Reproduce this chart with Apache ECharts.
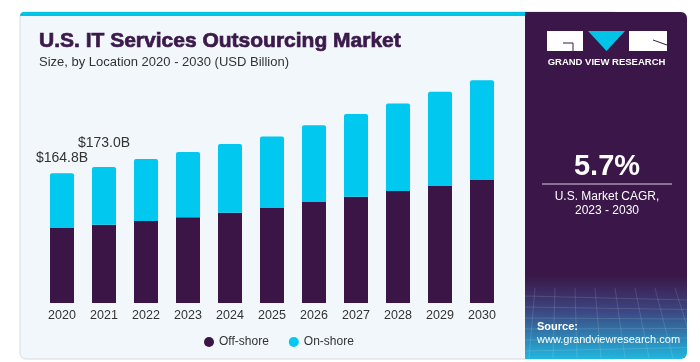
<!DOCTYPE html>
<html>
<head>
<meta charset="utf-8">
<script src="https://cdn.jsdelivr.net/npm/echarts@6/dist/echarts.min.js"></script>
<style>
  html, body { margin: 0; padding: 0; background: #ffffff; }
  #chart { width: 700px; height: 362px; }
</style>
</head>
<body>
<div id="chart"></div>
<script>
// ---- Data ----
var years = ['2020', '2021', '2022', '2023', '2024', '2025', '2026', '2027', '2028', '2029', '2030'];
var offShore = [95.3, 99.5, 104.2, 108.9, 114.7, 120.7, 128.3, 135.1, 142.3, 148.7, 156.3];
var onShore  = [69.5, 73.5, 78.8, 83.0, 87.3, 91.1, 97.5, 105.0, 111.4, 119.8, 126.7];
var totalLabels = ['$164.8B', '$173.0B', '', '', '', '', '', '', '', '', ''];
var seriesNames = ['Off-shore', 'On-shore'];
var cagrValue = '5.7%';
var cagrText = ['U.S. Market CAGR,', '2023 - 2030'];

var DARK = '#3a1545';
var CYAN = '#00c8ef';
var PANEL = '#3a1748';
var FONT = '"Liberation Sans", Arial, sans-serif';

var chart = echarts.init(document.getElementById('chart'), null, { renderer: 'canvas' });

// grid lines in source area (decorative)
var gridLines = [];
for (var i = 0; i < 9; i++) {
  gridLines.push({
    type: 'line', silent: true, z: -5,
    shape: { x1: 525 + i * 20 - 10, y1: 288, x2: 525 + i * 24 - 20, y2: 358 },
    style: { stroke: 'rgba(255,255,255,0.12)', lineWidth: 1 }
  });
}
for (var j = 0; j < 6; j++) {
  gridLines.push({
    type: 'line', silent: true, z: -5,
    shape: { x1: 525, y1: 296 + j * 11, x2: 687, y2: 300 + j * 11 - j * 1.5 },
    style: { stroke: 'rgba(255,255,255,0.12)', lineWidth: 1 }
  });
}

var graphics = [
  // card
  { type: 'rect', silent: true, z: -10,
    shape: { x: 20, y: 12, width: 600, height: 347, r: 6 },
    style: { fill: '#f2f7fb', stroke: '#d5dbe2', lineWidth: 1 } },
  // top cyan bar
  { type: 'rect', silent: true, z: -9,
    shape: { x: 20, y: 12, width: 510, height: 4, r: [5, 0, 0, 0] },
    style: { fill: '#00c3e8' } },
  // right panel
  { type: 'rect', silent: true, z: -8,
    shape: { x: 525, y: 12, width: 162, height: 347, r: [0, 6, 6, 0] },
    style: { fill: {
      type: 'linear', x: 0, y: 0, x2: 0, y2: 1,
      colorStops: [
        { offset: 0, color: PANEL },
        { offset: 0.76, color: PANEL },
        { offset: 0.86, color: '#3c4580' },
        { offset: 1, color: '#22b6de' }
      ]
    } } },
  // logo: left box
  { type: 'rect', silent: true, z: -4, shape: { x: 547, y: 31, width: 36, height: 20 }, style: { fill: '#ffffff' } },
  { type: 'polyline', silent: true, z: -3, shape: { points: [[563, 43], [573, 43], [573, 51]] }, style: { stroke: PANEL, lineWidth: 1, fill: null } },
  // logo: triangle
  { type: 'polygon', silent: true, z: -4, shape: { points: [[588, 31], [625, 31], [606.5, 51]] }, style: { fill: '#00c3e8' } },
  // logo: right box
  { type: 'rect', silent: true, z: -4, shape: { x: 629, y: 31, width: 38, height: 20 }, style: { fill: '#ffffff' } },
  { type: 'polyline', silent: true, z: -3, shape: { points: [[653, 40], [667, 45]] }, style: { stroke: PANEL, lineWidth: 1, fill: null } },
  { type: 'text', silent: true, z: -3,
    style: { text: 'GRAND VIEW RESEARCH', x: 606.5, y: 62, fill: '#ffffff', font: 'bold 9.5px ' + FONT, align: 'center', verticalAlign: 'middle' } },
  // CAGR
  { type: 'text', silent: true, z: -3,
    style: { text: cagrValue, x: 607, y: 167, fill: '#ffffff', font: 'bold 29px ' + FONT, align: 'center', verticalAlign: 'middle' } },
  { type: 'line', silent: true, z: -3, shape: { x1: 542, y1: 184, x2: 672, y2: 184 }, style: { stroke: '#d9cde0', lineWidth: 1 } },
  { type: 'text', silent: true, z: -3,
    style: { text: cagrText[0], x: 607, y: 197, fill: '#ffffff', font: '12px ' + FONT, align: 'center', verticalAlign: 'middle' } },
  { type: 'text', silent: true, z: -3,
    style: { text: cagrText[1], x: 607, y: 211, fill: '#ffffff', font: '12px ' + FONT, align: 'center', verticalAlign: 'middle' } },
  // Source
  { type: 'text', silent: true, z: -3,
    style: { text: 'Source:', x: 537, y: 327, fill: '#ffffff', font: 'bold 11px ' + FONT, align: 'left', verticalAlign: 'middle' } },
  { type: 'text', silent: true, z: -3,
    style: { text: 'www.grandviewresearch.com', x: 537, y: 340, fill: '#ffffff', font: '11px ' + FONT, align: 'left', verticalAlign: 'middle' } }
].concat(gridLines);

var option = {
  animation: false,
  backgroundColor: '#ffffff',
  title: {
    text: 'U.S. IT Services Outsourcing Market',
    subtext: 'Size, by Location 2020 - 2030 (USD Billion)',
    left: 34, top: 26,
    itemGap: 3,
    textStyle: { fontFamily: FONT, fontWeight: 'bold', fontSize: 21, color: '#3b1a4b',
                 textBorderColor: '#3b1a4b', textBorderWidth: 0.7 },
    subtextStyle: { fontFamily: FONT, fontSize: 13, color: '#333333' }
  },
  legend: {
    data: seriesNames,
    left: 199, top: 331,
    icon: 'circle', itemWidth: 10, itemHeight: 10, itemGap: 20,
    textStyle: { fontFamily: FONT, fontSize: 12, color: '#333333' }
  },
  grid: { left: 41, right: 197, top: 67, bottom: 59, containLabel: false },
  xAxis: {
    type: 'category', data: years,
    axisLine: { show: false }, axisTick: { show: false },
    axisLabel: { fontFamily: FONT, fontSize: 12.5, color: '#333333', margin: 6 }
  },
  yAxis: { type: 'value', min: 0, max: 300, show: false, splitLine: { show: false } },
  graphic: graphics,
  series: [
    { name: seriesNames[0], type: 'bar', stack: 'total', data: offShore, barWidth: 24,
      itemStyle: { color: DARK } },
    { name: seriesNames[1], type: 'bar', stack: 'total', barWidth: 24,
      itemStyle: { color: CYAN, borderRadius: [2, 2, 0, 0] },
      data: onShore.map(function (v, i) {
        return {
          value: v,
          label: {
            show: totalLabels[i] !== '',
            position: 'top',
            distance: i === 0 ? 8 : 17,
            formatter: totalLabels[i],
            fontFamily: FONT, fontSize: 14, color: '#333333'
          }
        };
      })
    }
  ]
};
chart.setOption(option);
</script>
</body>
</html>
